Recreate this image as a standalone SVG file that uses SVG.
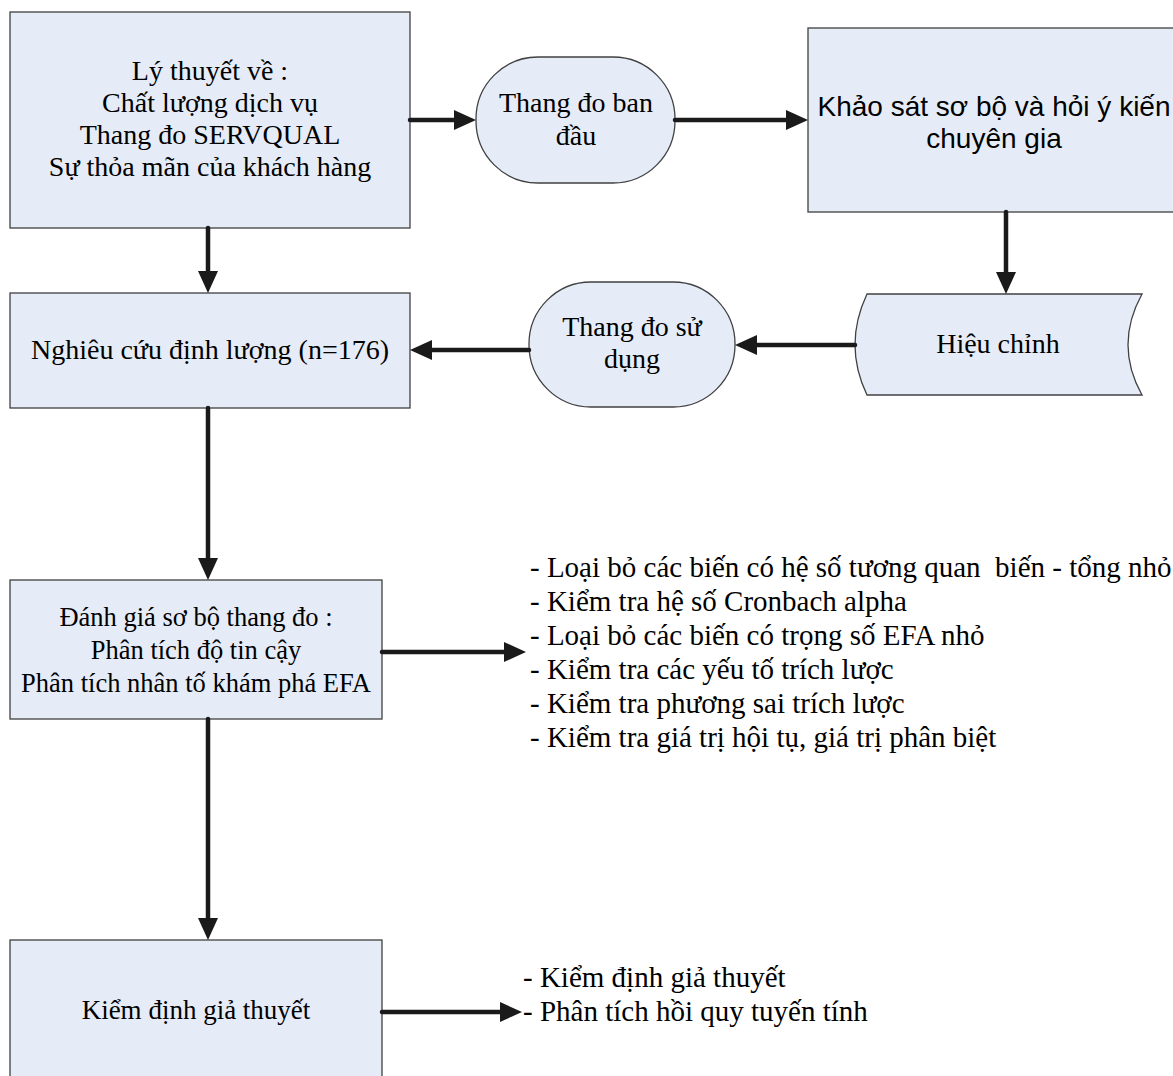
<svg xmlns="http://www.w3.org/2000/svg" width="1173" height="1076" viewBox="0 0 1173 1076">
<style>
.box{fill:#E6ECF7;stroke:#404040;stroke-width:1.3}
.t{font-family:"Liberation Serif","Times New Roman",serif;font-size:28px;fill:#000}
.t2{font-size:26.5px}
.t3{font-size:29px}
.s{font-family:"Liberation Sans",Arial,sans-serif;font-size:28px;fill:#000}
.c{text-anchor:middle}
.ln{stroke:#1a1a1a;stroke-width:4.5;fill:none;stroke-linecap:round;marker-end:url(#ah)}
</style>
<defs>
<marker id="ah" viewBox="0 0 22 20" refX="10" refY="10" markerWidth="22" markerHeight="20" markerUnits="userSpaceOnUse" orient="auto">
<path d="M0,0 L22,10 L0,20 Z" fill="#1a1a1a"/>
</marker>
</defs>
<rect width="1173" height="1076" fill="#fff"/>

<g id="n1">
<rect class="box" x="10" y="12" width="400" height="216"/>
<text class="t c" x="210" y="80">Lý thuyết về :</text>
<text class="t c" x="210" y="112">Chất lượng dịch vụ</text>
<text class="t c" x="210" y="144">Thang đo SERVQUAL</text>
<text class="t c" x="210" y="176">Sự thỏa mãn của khách hàng</text>
</g>

<g id="n2">
<rect class="box" x="476" y="57" width="199" height="126" rx="62" ry="62"/>
<text class="t c" x="576" y="112">Thang đo ban</text>
<text class="t c" x="576" y="145">đầu</text>
</g>

<g id="n3">
<rect class="box" x="808" y="28" width="372" height="184"/>
<text class="s c" x="994" y="116">Khảo sát sơ bộ và hỏi ý kiến</text>
<text class="s c" x="994" y="148">chuyên gia</text>
</g>

<g id="n4">
<path class="box" d="M867,294 L1142,294 Q1114,345 1142,395 L867,395 Q843,345 867,294 Z"/>
<text class="t c" x="998" y="353">Hiệu chỉnh</text>
</g>

<g id="n5">
<rect class="box" x="529" y="282" width="206" height="125" rx="62" ry="62"/>
<text class="t c" x="632" y="336">Thang đo sử</text>
<text class="t c" x="632" y="368">dụng</text>
</g>

<g id="n6">
<rect class="box" x="10" y="293" width="400" height="115"/>
<text class="t c" x="210" y="359">Nghiêu cứu định lượng (n=176)</text>
</g>

<g id="n7">
<rect class="box" x="10" y="580" width="372" height="139"/>
<text class="t t2 c" x="196" y="626">Đánh giá sơ bộ thang đo :</text>
<text class="t t2 c" x="196" y="659">Phân tích độ tin cậy</text>
<text class="t t2 c" x="196" y="692">Phân tích nhân tố khám phá EFA</text>
</g>

<g id="n8">
<text class="t t3" x="530" y="577" xml:space="preserve">- Loại bỏ các biến có hệ số tương quan  biến - tổng nhỏ</text>
<text class="t t3" x="530" y="611">- Kiểm tra hệ số Cronbach alpha</text>
<text class="t t3" x="530" y="645">- Loại bỏ các biến có trọng số EFA nhỏ</text>
<text class="t t3" x="530" y="679">- Kiểm tra các yếu tố trích lược</text>
<text class="t t3" x="530" y="713">- Kiểm tra phương sai trích lược</text>
<text class="t t3" x="530" y="747">- Kiểm tra giá trị hội tụ, giá trị phân biệt</text>
</g>

<g id="n9">
<rect class="box" x="10" y="940" width="372" height="150"/>
<text class="t c" style="font-size:27px" x="196" y="1019">Kiểm định giả thuyết</text>
</g>

<g id="n10">
<text class="t t3" x="523" y="987">- Kiểm định giả thuyết</text>
<text class="t t3" x="523" y="1021">- Phân tích hồi quy tuyến tính</text>
</g>

<g id="connectors">
<line class="ln" x1="410" y1="120" x2="464" y2="120"/>
<line class="ln" x1="675" y1="120" x2="796" y2="120"/>
<line class="ln" x1="1006" y1="212" x2="1006" y2="282"/>
<line class="ln" x1="855" y1="345" x2="747" y2="345"/>
<line class="ln" x1="529" y1="350" x2="422" y2="350"/>
<line class="ln" x1="208" y1="228" x2="208" y2="281"/>
<line class="ln" x1="208" y1="408" x2="208" y2="568"/>
<line class="ln" x1="382" y1="652" x2="514" y2="652"/>
<line class="ln" x1="208" y1="719" x2="208" y2="928"/>
<line class="ln" x1="382" y1="1012" x2="510" y2="1012"/>
</g>
</svg>
